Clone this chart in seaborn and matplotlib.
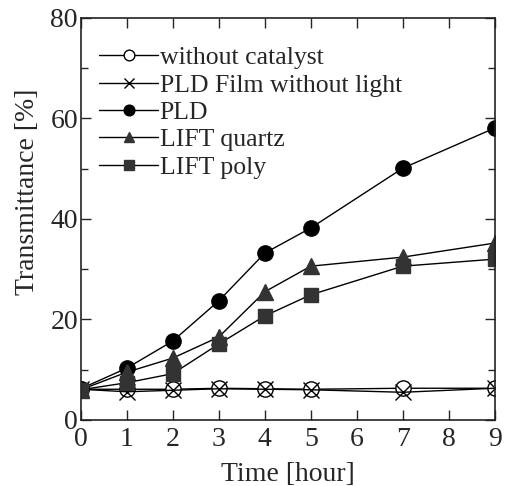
import matplotlib
matplotlib.use("Agg")
import matplotlib.pyplot as plt
from matplotlib.ticker import MultipleLocator
import seaborn as sns
import pandas as pd

hours = [0, 1, 2, 3, 4, 5, 7, 9]
no_catalyst = [6.1, 6.1, 6.1, 6.3, 6.2, 6.1, 6.3, 6.3]
pld_dark = [6.1, 5.6, 5.9, 6.2, 6.1, 6.0, 5.5, 6.3]
pld = [6.2, 10.3, 15.7, 23.7, 33.2, 38.2, 50.1, 58.1]
lift_quartz = [6.0, 9.5, 12.3, 16.5, 25.5, 30.6, 32.4, 35.2]
lift_poly = [6.0, 7.4, 9.2, 15.1, 20.7, 24.9, 30.6, 32.0]
labels = ["without catalyst", "PLD Film without light", "PLD", "LIFT quartz", "LIFT poly"]

sns.set_style("ticks")
plt.rcParams["font.family"] = ["Liberation Serif", "DejaVu Serif"]
plt.rcParams["font.size"] = 20

fig = plt.figure(figsize=(5.08, 4.86), dpi=100)
ax = fig.add_axes([0.159, 0.136, 0.815, 0.827])

series = [no_catalyst, pld_dark, pld, lift_quartz, lift_poly]
styles = [("o", "white", "black", 11),
          ("x", "black", "black", 11),
          ("o", "black", "black", 11),
          ("^", "#333333", "#333333", 11),
          ("s", "#333333", "#333333", 10)]
for vals, lab, (m, fc, ec, ms) in zip(series, labels, styles):
    df = pd.DataFrame({"x": hours, "y": vals})
    sns.lineplot(data=df, x="x", y="y", ax=ax, color="black", lw=1,
                 marker=m, markersize=ms, markerfacecolor=fc,
                 markeredgecolor=ec, markeredgewidth=1, label=lab)

ax.set_xlim(0, 9)
ax.set_ylim(0, 80)
ax.xaxis.set_major_locator(MultipleLocator(1))
ax.yaxis.set_major_locator(MultipleLocator(20))
ax.yaxis.set_minor_locator(MultipleLocator(10))
ax.tick_params(which="both", direction="in", top=True, right=True,
               labelsize=20, width=1)
ax.tick_params(axis="x", pad=5)
ax.tick_params(axis="y", pad=2)
ax.tick_params(which="major", length=7)
ax.tick_params(which="minor", length=5)
for sp in ax.spines.values():
    sp.set_linewidth(1.2)
    sp.set_color("#222222")
ax.set_xlabel("Time [hour]", fontsize=20, labelpad=7)
ax.set_ylabel("Transmittance [%]", fontsize=20)
ax.yaxis.set_label_coords(-0.099, 0.567)

ax.legend(loc="upper left", frameon=False, fontsize=18.5, handlelength=2.3,
          handletextpad=0.05, labelspacing=0.17, borderaxespad=0.0,
          markerscale=0.7, bbox_to_anchor=(0.02, 0.955))

fig.savefig("out.png", dpi=100)
